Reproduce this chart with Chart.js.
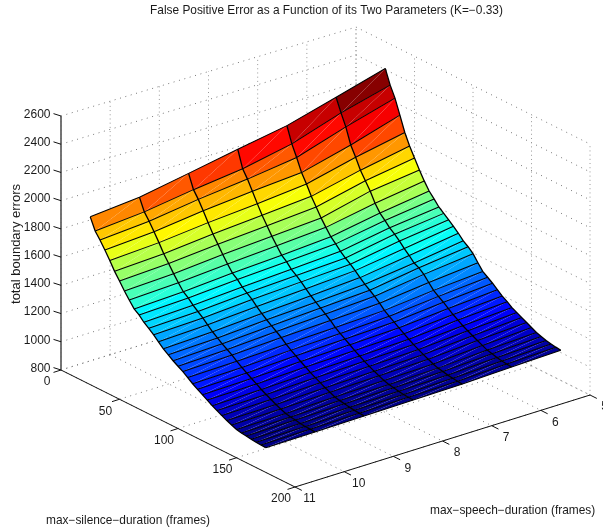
<!DOCTYPE html>
<html><head><meta charset="utf-8">
<style>html,body{margin:0;padding:0;background:#fff;overflow:hidden}canvas{display:block}</style>
<script src="https://cdn.jsdelivr.net/npm/chart.js@4"></script>
</head><body><canvas id="c" width="603" height="531"></canvas>
<script>
const titleText = "False Positive Error as a Function of its Two Parameters (K=\u22120.33)";
const silLabel = "max\u2212silence\u2212duration (frames)";
const speechLabel = "max\u2212speech\u2212duration (frames)";
const zLabel = "total boundary errors";
const silTicks = [0,50,100,150,200];
const speechTicks = [11,10,9,8,7,6,5];
const zTicks = [800,1000,1200,1400,1600,1800,2000,2200,2400,2600];
const speechValues = [11,10,9,8,7,6,5];
const silValues = [25,29.2,33.3,37.5,41.7,45.8,50,54.2,58.3,62.5,66.7,70.8,75,79.2,83.3,87.5,91.7,95.8,100,104.2,108.3,112.5,116.7,120.8,125,129.2,133.3,137.5,141.7,145.8,150,154.2,158.3,162.5,166.7,170.8,175];
const totalErrors = [
[1989,2020,2080,2142,2201,2293,2389],
[1906,1933,1982,2021,2089,2200,2288],
[1859,1884,1930,1965,2010,2118,2213],
[1806,1827,1867,1897,1920,2007,2110],
[1749,1767,1800,1826,1856,1938,2004],
[1689,1705,1736,1760,1786,1863,1925],
[1638,1653,1682,1704,1728,1805,1858],
[1585,1599,1626,1646,1668,1749,1790],
[1538,1551,1576,1596,1618,1680,1730],
[1492,1505,1529,1547,1569,1628,1676],
[1467,1479,1501,1518,1536,1593,1637],
[1432,1444,1465,1481,1500,1558,1597],
[1406,1417,1439,1455,1470,1530,1569],
[1378,1389,1411,1427,1444,1499,1541],
[1345,1357,1378,1395,1415,1463,1512],
[1313,1325,1346,1363,1383,1431,1480],
[1288,1299,1319,1335,1353,1395,1444],
[1263,1274,1294,1310,1328,1378,1419],
[1241,1251,1270,1285,1302,1349,1387],
[1221,1229,1245,1257,1271,1309,1340],
[1195,1202,1215,1225,1237,1270,1296],
[1169,1176,1190,1200,1212,1245,1272],
[1147,1154,1167,1177,1189,1221,1247],
[1126,1132,1144,1154,1165,1194,1218],
[1105,1111,1122,1130,1141,1168,1190],
[1083,1089,1100,1109,1119,1146,1168],
[1065,1070,1081,1088,1098,1123,1143],
[1047,1052,1063,1070,1080,1105,1125],
[1029,1034,1045,1052,1062,1087,1107],
[1015,1020,1030,1037,1046,1070,1089],
[1000,1005,1014,1021,1030,1053,1071],
[993,997,1005,1011,1018,1037,1053],
[989,993,1000,1005,1011,1028,1042],
[983,986,993,997,1003,1019,1031],
[979,982,988,992,998,1012,1024],
[977,980,985,989,994,1007,1018],
[975,978,983,987,991,1004,1014]
];

// oblique view of the three data axes onto the chart's two linear scales
const view = {ox:61, oy:370, silX:1.17, silY:0.585, spX:49.17, spY:-15.33, zY:-0.1411, zBase:800, wallTaper:0.00028};
function P(sil, speech, z){
  return {x: view.ox + view.silX*sil + view.spX*(11-speech),
          y: view.oy + view.silY*sil + view.spY*(11-speech) + view.zY*(z-view.zBase)};
}
// grid walls lean very slightly with height in the reference view
function G(sil, speech, z){
  const p = P(sil, speech, z);
  return {x:p.x, y:p.y + view.wallTaper*(11-speech)*(z-view.zBase)};
}
const zAll = totalErrors.flat();
const zMin = Math.min(...zAll), zMax = Math.max(...zAll);
function jet(z){
  const idx = Math.min(63, Math.floor((z-zMin)/(zMax-zMin)*64));
  const v = (idx+0.5)/64;
  const c = t => Math.round(255*Math.max(0, Math.min(1, 1.5-4*Math.abs(v-t))));
  return `rgb(${c(0.75)},${c(0.5)},${c(0.25)})`;
}
const datasets = [];
function line(pts, color, width, dash){
  datasets.push({data:pts, showLine:true, fill:false, borderColor:color, borderWidth:width,
    borderDash:dash||[], pointRadius:0, tension:0, borderCapStyle:'butt'});
}
const dots = [1,4.6], vDots = [1,3.2], gridColor = '#777', vGridColor = '#999';
const sMin = silTicks[0], sMax = silTicks[silTicks.length-1], spLo = 5, spHi = 11, zLo = 800, zHi = 2600;
for (const z of zTicks){
  line([G(sMin,spHi,z),G(sMin,spLo,z),G(sMax,spLo,z)], gridColor, 1, dots);
}
for (const sp of speechTicks){
  line([G(sMin,sp,zLo),G(sMin,sp,zHi)], vGridColor, 1, vDots);
  line([G(sMin,sp,zLo),G(sMax,sp,zLo)], gridColor, 1, dots);
}
for (const s of silTicks){
  line([G(s,spLo,zLo),G(s,spLo,zHi)], vGridColor, 1, vDots);
  line([G(s,spHi,zLo),G(s,spLo,zLo)], gridColor, 1, dots);
}
// surface faces, each as two triangles
for (let i=0;i<silValues.length-1;i++){
  for (let j=0;j<speechValues.length-1;j++){
    const a=P(silValues[i],speechValues[j],totalErrors[i][j]);
    const b=P(silValues[i],speechValues[j+1],totalErrors[i][j+1]);
    const c=P(silValues[i+1],speechValues[j+1],totalErrors[i+1][j+1]);
    const d=P(silValues[i+1],speechValues[j],totalErrors[i+1][j]);
    const col=jet(totalErrors[i][j+1]);
    for (const tri of [[a,b,d,a],[b,c,d,b]]){
      datasets.push({data:tri, showLine:true, fill:'shape', backgroundColor:col, borderWidth:0,
        borderColor:'rgba(0,0,0,0)', pointRadius:0, tension:0});
    }
  }
}
// surface mesh
silValues.forEach((s,i)=>line(speechValues.map((sp,j)=>P(s,sp,totalErrors[i][j])),'#000',1.05));
speechValues.forEach((sp,j)=>line(silValues.map((s,i)=>P(s,sp,totalErrors[i][j])),'#000',1.3));
// axes
line([P(sMin,spHi,zLo),P(sMax,spHi,zLo)],'#111',1);
line([P(sMax,spHi,zLo),P(sMax,spLo,zLo)],'#111',1);
line([P(sMin,spHi,zLo),P(sMin,spHi,zHi)],'#666',1.8);
datasets.reverse(); // Chart.js paints the first dataset last

const tickAndText = {
  id:'tickAndText',
  afterDatasetsDraw(chart){
    const {ctx, scales:{x,y}} = chart;
    const px = p => ({x:x.getPixelForValue(p.x), y:y.getPixelForValue(p.y)});
    ctx.save();
    ctx.strokeStyle='#111'; ctx.lineWidth=1;
    const seg=(p,dx,dy)=>{const q=px(p);ctx.beginPath();ctx.moveTo(q.x,q.y);ctx.lineTo(q.x+dx,q.y+dy);ctx.stroke();};
    zTicks.forEach(z=>seg(P(sMin,spHi,z),-7.5,-2.4));
    silTicks.forEach(s=>seg(P(s,spHi,zLo),-7.5,2.4));
    speechTicks.forEach(sp=>seg(P(sMax,sp,zLo),6.8,3.4));
    ctx.fillStyle='#1a1a1a'; ctx.textBaseline='middle';
    ctx.font="12px 'Liberation Sans'";
    ctx.textAlign='right';
    zTicks.forEach(z=>{const q=px(P(sMin,spHi,z));ctx.fillText(String(z),q.x-10.5,q.y-1.5);});
    ctx.textAlign='center';
    silTicks.forEach(s=>{const q=px(P(s,spHi,zLo));ctx.fillText(String(s),q.x-14,q.y+12);});
    speechTicks.forEach(sp=>{const q=px(P(sMax,sp,zLo));ctx.fillText(String(sp),q.x+14.5,q.y+12);});
    ctx.textAlign='left';
    ctx.font="11.9px 'Liberation Sans'";
    ctx.fillText(titleText,150,11);
    ctx.fillText(silLabel,46,521);
    ctx.fillText(speechLabel,430,511);
    ctx.font="13px 'Liberation Sans'";
    ctx.translate(16,244); ctx.rotate(-Math.PI/2); ctx.textAlign='center';
    ctx.fillText(zLabel,0,0);
    ctx.restore();
  }
};
new Chart(document.getElementById('c'),{
  type:'scatter',
  data:{datasets},
  options:{
    responsive:false, animation:false, events:[],
    layout:{padding:0},
    plugins:{legend:{display:false},tooltip:{enabled:false},title:{display:false}},
    scales:{
      x:{type:'linear',min:0,max:603,display:false},
      y:{type:'linear',min:0,max:531,reverse:true,display:false}
    }
  },
  plugins:[tickAndText]
});
</script></body></html>
